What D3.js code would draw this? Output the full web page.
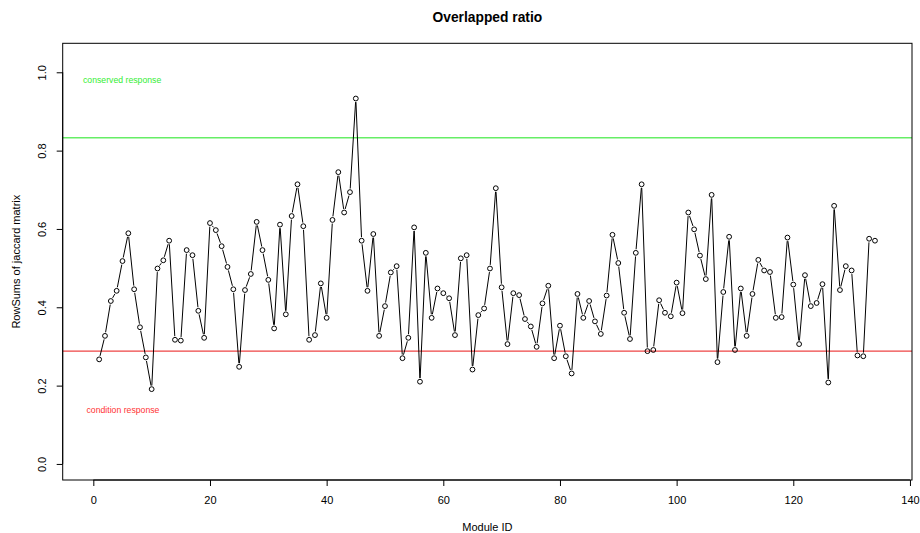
<!DOCTYPE html>
<html>
<head>
<meta charset="utf-8">
<script src="https://cdn.jsdelivr.net/npm/d3@7"></script>
<style>
  body { margin: 0; background: #fff; }
  text { font-family: "Liberation Sans", Arial, sans-serif; }
</style>
</head>
<body>
<div id="chart"></div>
<script>
// RowSums of jaccard matrix, one value per module (1..134)
const ratios = [
  0.267, 0.327, 0.416, 0.442, 0.518, 0.589, 0.446, 0.349, 0.272, 0.191,
  0.499, 0.520, 0.570, 0.317, 0.315, 0.546, 0.533, 0.391, 0.322, 0.615,
  0.597, 0.556, 0.503, 0.446, 0.248, 0.444, 0.485, 0.618, 0.546, 0.470,
  0.346, 0.611, 0.382, 0.633, 0.714, 0.607, 0.317, 0.329, 0.461, 0.373,
  0.623, 0.745, 0.642, 0.694, 0.933, 0.570, 0.442, 0.587, 0.327, 0.403,
  0.489, 0.505, 0.270, 0.322, 0.604, 0.210, 0.539, 0.373, 0.448, 0.436,
  0.423, 0.329, 0.525, 0.533, 0.241, 0.380, 0.397, 0.499, 0.704, 0.451,
  0.306, 0.436, 0.431, 0.370, 0.351, 0.299, 0.410, 0.455, 0.270, 0.353,
  0.275, 0.231, 0.434, 0.373, 0.416, 0.364, 0.332, 0.430, 0.585, 0.513,
  0.386, 0.319, 0.539, 0.714, 0.288, 0.291, 0.418, 0.386, 0.377, 0.463,
  0.385, 0.642, 0.599, 0.532, 0.472, 0.687, 0.260, 0.439, 0.580, 0.291,
  0.448, 0.327, 0.434, 0.521, 0.494, 0.490, 0.373, 0.375, 0.578, 0.458,
  0.306, 0.482, 0.403, 0.411, 0.459, 0.208, 0.659, 0.444, 0.505, 0.494,
  0.277, 0.275, 0.575, 0.570
];
const moduleIds = ratios.map((d, i) => i + 1);
const data = moduleIds.map((id, i) => ({id: id, v: ratios[i]}));

const xTicks = [0, 20, 40, 60, 80, 100, 120, 140];
const yTicks = [0.0, 0.2, 0.4, 0.6, 0.8, 1.0];
const conservedCut = 0.833;
const conditionCut = 0.288;

const width = 920;
const height = 533;
const box = {left: 62.7, right: 912, top: 43.3, bottom: 480};

const svg = d3.select("#chart")
  .append("svg")
  .attr("width", width)
  .attr("height", height);

// scales (domains extended like R's default 4% padding)
const x = d3.scaleLinear()
  .domain([-5.25, 140.35])
  .range([box.left, box.right]);

const y = d3.scaleLinear()
  .domain([-0.041, 1.074])
  .range([box.bottom, box.top]);

// title
svg.append("text")
  .attr("x", (box.left + box.right) / 2)
  .attr("y", 21.5)
  .attr("text-anchor", "middle")
  .attr("font-size", 13.8)
  .attr("font-weight", "bold")
  .text("Overlapped ratio");

// cut-off lines
svg.append("line")
  .attr("x1", box.left).attr("x2", box.right)
  .attr("y1", y(conservedCut)).attr("y2", y(conservedCut))
  .attr("stroke", "#66ee66")
  .attr("stroke-width", 1.5);

svg.append("line")
  .attr("x1", box.left).attr("x2", box.right)
  .attr("y1", y(conditionCut)).attr("y2", y(conditionCut))
  .attr("stroke", "#ee4444")
  .attr("stroke-width", 1.2);

svg.append("text")
  .attr("x", 83)
  .attr("y", 82.5)
  .attr("font-size", 8.7)
  .attr("fill", "#33ee33")
  .text("conserved response");

svg.append("text")
  .attr("x", 86.5)
  .attr("y", 412.5)
  .attr("font-size", 8.7)
  .attr("fill", "#ff3333")
  .text("condition response");

// line segments with gaps around points (type = "b")
const r = 2.4;
const gap = 1.2;
const segs = d3.pairs(data).map(([a, b]) => {
  const x1 = x(a.id), y1 = y(a.v), x2 = x(b.id), y2 = y(b.v);
  const len = Math.hypot(x2 - x1, y2 - y1);
  const cut = r + gap;
  if (len <= 2 * cut) return null;
  const ux = (x2 - x1) / len, uy = (y2 - y1) / len;
  return {x1: x1 + ux * cut, y1: y1 + uy * cut, x2: x2 - ux * cut, y2: y2 - uy * cut};
}).filter(d => d);

svg.append("g")
  .selectAll("line")
  .data(segs)
  .enter()
  .append("line")
  .attr("x1", d => d.x1).attr("y1", d => d.y1)
  .attr("x2", d => d.x2).attr("y2", d => d.y2)
  .attr("stroke", "#000")
  .attr("stroke-width", 1);

svg.append("g")
  .selectAll("circle")
  .data(data)
  .enter()
  .append("circle")
  .attr("cx", d => x(d.id))
  .attr("cy", d => y(d.v))
  .attr("r", r)
  .attr("fill", "none")
  .attr("stroke", "#000")
  .attr("stroke-width", 1);

// box
svg.append("rect")
  .attr("x", box.left)
  .attr("y", box.top)
  .attr("width", box.right - box.left)
  .attr("height", box.bottom - box.top)
  .attr("fill", "none")
  .attr("stroke", "#000")
  .attr("stroke-width", 1);

// x axis
const xAxis = svg.append("g")
  .attr("transform", `translate(0,${box.bottom})`)
  .call(d3.axisBottom(x).tickValues(xTicks).tickSize(6).tickPadding(10));
xAxis.selectAll("text").attr("font-size", 11).attr("font-family", "Liberation Sans, Arial, sans-serif").attr("fill", "#000");
xAxis.select(".domain").attr("d", `M${x(0)},0H${x(140)}`);

// y axis
const yAxis = svg.append("g")
  .attr("transform", `translate(${box.left},0)`)
  .call(d3.axisLeft(y).tickValues(yTicks).tickFormat(d3.format(".1f")).tickSize(6).tickPadding(0));
yAxis.selectAll(".tick text")
  .attr("font-size", 11)
  .attr("font-family", "Liberation Sans, Arial, sans-serif")
  .attr("fill", "#000")
  .attr("x", 0).attr("dy", 0)
  .attr("text-anchor", "middle")
  .attr("transform", "translate(-17,0) rotate(-90)");
yAxis.select(".domain").attr("d", `M0,${y(0)}V${y(1)}`);

// axis titles
svg.append("text")
  .attr("x", (box.left + box.right) / 2)
  .attr("y", 531)
  .attr("text-anchor", "middle")
  .attr("font-size", 11)
  .text("Module ID");

svg.append("text")
  .attr("transform", `translate(20,${(box.top + box.bottom) / 2}) rotate(-90)`)
  .attr("text-anchor", "middle")
  .attr("font-size", 11)
  .text("RowSums of jaccard matrix");
</script>
</body>
</html>
